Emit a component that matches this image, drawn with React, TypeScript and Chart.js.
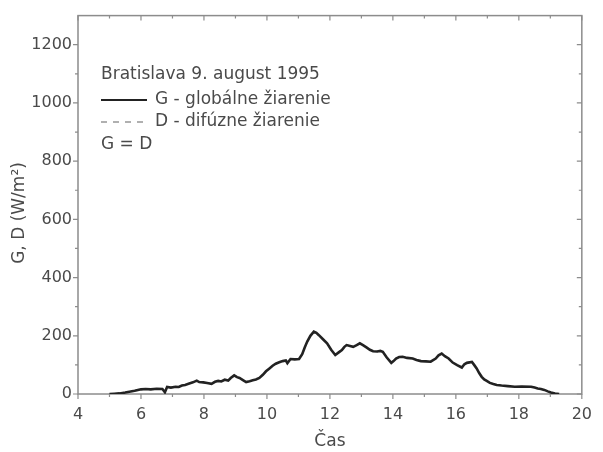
import React, { useEffect, useRef } from "react";
import { Chart, registerables } from "chart.js";

Chart.register(...registerables);

// Time of day (hours)
const hours = [
  5.0, 5.15, 5.32, 5.5, 5.63, 5.8, 6.0, 6.15, 6.31, 6.5, 6.68, 6.76, 6.83, 6.95,
  7.1, 7.2, 7.3, 7.4, 7.51, 7.65, 7.77, 7.85, 7.98, 8.1, 8.24, 8.35, 8.45, 8.55,
  8.66, 8.77, 8.85, 8.96, 9.05, 9.13, 9.25, 9.34, 9.45, 9.55, 9.65, 9.76, 9.87,
  9.97, 10.08, 10.18, 10.28, 10.39, 10.5, 10.6, 10.65, 10.75, 10.88, 11.02, 11.12,
  11.2, 11.28, 11.38, 11.49, 11.57, 11.65, 11.78, 11.91, 12.04, 12.17, 12.28,
  12.38, 12.46, 12.53, 12.64, 12.74, 12.85, 12.95, 13.05, 13.16, 13.27, 13.37,
  13.5, 13.6, 13.68, 13.8, 13.95, 14.02, 14.1, 14.2, 14.31, 14.45, 14.63, 14.75,
  14.89, 15.05, 15.2, 15.36, 15.45, 15.55, 15.65, 15.77, 15.9, 16.04, 16.19,
  16.27, 16.35, 16.51, 16.58, 16.66, 16.74, 16.82, 16.9, 16.98, 17.08, 17.19,
  17.3, 17.45, 17.65, 17.87, 18.1, 18.39, 18.5, 18.6, 18.7, 18.81, 18.92, 19.02,
  19.15, 19.28,
];

// G - global radiation (W/m2)
const globalRad = [
  0, 1, 2, 5, 8, 11, 16, 17, 16, 18, 17, 6, 24, 22,
  25, 24, 29, 31, 35, 40, 46, 41, 40, 38, 35, 42, 45, 43,
  49, 46, 55, 64, 58, 55, 47, 41, 44, 47, 50, 55, 66,
  78, 88, 97, 104, 109, 113, 115, 106, 120, 119, 120, 137,
  160, 180, 200, 214, 210, 202, 188, 174, 152, 134, 143,
  151, 162, 168, 165, 162, 168, 174, 168, 160, 152, 147,
  146, 148, 145, 126, 107, 113, 122, 127, 128, 124, 122, 117,
  113, 112, 111, 122, 133, 139, 130, 122, 108, 99, 91,
  102, 107, 110, 100, 88, 72, 59, 50, 45, 38, 34,
  31, 29, 27, 25, 26, 25, 22, 19, 17, 14, 9, 5,
  2, 0,
];

// D - diffuse radiation (W/m2); on this day G = D
const diffuseRad = globalRad;

const xTicks = [4, 6, 8, 10, 12, 14, 16, 18, 20];
const yTicks = [0, 200, 400, 600, 800, 1000, 1200];
const xMinorTicks = [5, 7, 9, 11, 13, 15, 17, 19];
const yMinorTicks = [100, 300, 500, 700, 900, 1100];

const legendTitle = "Bratislava 9. august 1995";
const labelG = "G - globálne žiarenie";
const labelD = "D - difúzne žiarenie";
const legendNote = "G = D";
const xTitle = "Čas";
const yTitle = "G, D (W/m²)";

const FONT = "'DejaVu Sans', sans-serif";
const TEXT = "#4a4a4a";
const FRAME = "#8c8c8c";

const framePlugin = {
  id: "frameTicks",
  beforeDatasetsDraw(chart: any) {
    const { ctx, chartArea: a, scales } = chart;
    const xs = scales.x;
    const ys = scales.y;
    ctx.save();
    ctx.strokeStyle = FRAME;
    ctx.lineWidth = 1.5;
    ctx.strokeRect(a.left, a.top, a.right - a.left, a.bottom - a.top);
    ctx.lineWidth = 1.2;
    const drawX = (v: number, len: number) => {
      const px = xs.getPixelForValue(v);
      ctx.beginPath();
      ctx.moveTo(px, a.bottom);
      ctx.lineTo(px, a.bottom + len);
      ctx.moveTo(px, a.top);
      ctx.lineTo(px, a.top + len);
      ctx.stroke();
    };
    const drawY = (v: number, len: number) => {
      const py = ys.getPixelForValue(v);
      ctx.beginPath();
      ctx.moveTo(a.left, py);
      ctx.lineTo(a.left - len, py);
      ctx.moveTo(a.right, py);
      ctx.lineTo(a.right - len, py);
      ctx.stroke();
    };
    xTicks.forEach((v) => drawX(v, 5));
    xMinorTicks.forEach((v) => drawX(v, 3));
    yTicks.forEach((v) => drawY(v, 5));
    yMinorTicks.forEach((v) => drawY(v, 3));
    ctx.restore();
  },
  afterDraw(chart: any) {
    const { ctx, chartArea: a } = chart;
    ctx.save();
    ctx.fillStyle = TEXT;
    ctx.font = `17px ${FONT}`;
    ctx.textBaseline = "middle";
    ctx.textAlign = "left";
    // in-plot legend
    ctx.fillText(legendTitle, 101, 75);
    ctx.strokeStyle = "#222";
    ctx.lineWidth = 2;
    ctx.beginPath();
    ctx.moveTo(101, 100);
    ctx.lineTo(147, 100);
    ctx.stroke();
    ctx.fillText(labelG, 155, 100);
    ctx.strokeStyle = "#b0b0b0";
    ctx.setLineDash([6, 6]);
    ctx.beginPath();
    ctx.moveTo(101, 122);
    ctx.lineTo(146, 122);
    ctx.stroke();
    ctx.setLineDash([]);
    ctx.fillText(labelD, 155, 122);
    ctx.fillText(legendNote, 101, 145);
    // axis titles
    ctx.textAlign = "center";
    ctx.fillText(xTitle, (a.left + a.right) / 2, 442);
    ctx.translate(20, 213);
    ctx.rotate(-Math.PI / 2);
    ctx.fillText(yTitle, 0, 0);
    ctx.restore();
  },
};

export default function App() {
  const ref = useRef<HTMLCanvasElement | null>(null);
  useEffect(() => {
    document.body.style.margin = "0";
    const canvas = ref.current;
    if (!canvas) return;
    const chart = new Chart(canvas, {
      type: "line",
      data: {
        datasets: [
          {
            label: labelG,
            data: hours.map((h, i) => ({ x: h, y: globalRad[i] })),
            borderColor: "#222222",
            borderWidth: 2.6,
            pointRadius: 0,
            tension: 0,
            order: 0,
          },
          {
            label: labelD,
            data: hours.map((h, i) => ({ x: h, y: diffuseRad[i] })),
            borderColor: "#b0b0b0",
            borderDash: [6, 6],
            borderWidth: 1.5,
            pointRadius: 0,
            tension: 0,
            order: 1,
          },
        ],
      },
      options: {
        animation: false,
        responsive: false,
        devicePixelRatio: 1,
        layout: { padding: { left: 0, top: 15, right: 15, bottom: 0 } },
        plugins: { legend: { display: false }, tooltip: { enabled: false } },
        scales: {
          x: {
            type: "linear",
            min: 4,
            max: 20,
            afterBuildTicks: (s: any) => {
              s.ticks = xTicks.map((v) => ({ value: v }));
            },
            afterFit: (s: any) => {
              s.height = 58;
            },
            grid: { display: false, drawTicks: false },
            border: { display: false },
            ticks: {
              color: TEXT,
              font: { family: FONT, size: 16 },
              padding: 11,
              maxRotation: 0,
              autoSkip: false,
              callback: (v: any) => String(v),
            },
          },
          y: {
            type: "linear",
            min: 0,
            max: 1300,
            afterBuildTicks: (s: any) => {
              s.ticks = yTicks.map((v) => ({ value: v }));
            },
            afterFit: (s: any) => {
              s.width = 78;
            },
            grid: { display: false, drawTicks: false },
            border: { display: false },
            ticks: {
              color: TEXT,
              font: { family: FONT, size: 16 },
              padding: 6,
              autoSkip: false,
              callback: (v: any) => String(v),
            },
          },
        },
      },
      plugins: [framePlugin],
    } as any);
    return () => chart.destroy();
  }, []);
  return (
    <div style={{ width: 603, height: 452 }}>
      <canvas ref={ref} width={603} height={452} />
    </div>
  );
}
